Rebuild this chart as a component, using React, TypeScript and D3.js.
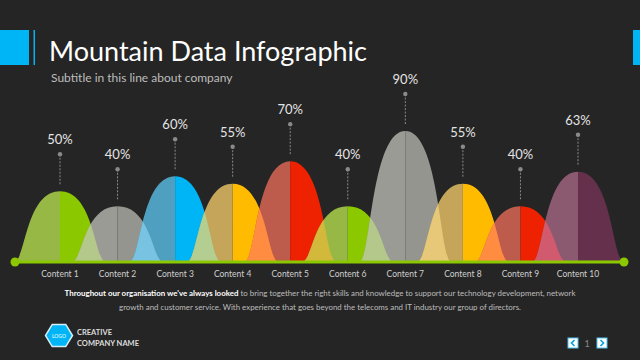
import React from 'react';
import * as d3 from 'd3';

const categories = ['Content 1', 'Content 2', 'Content 3', 'Content 4', 'Content 5', 'Content 6', 'Content 7', 'Content 8', 'Content 9', 'Content 10'];
const values = [50, 40, 60, 55, 70, 40, 90, 55, 40, 63];

// right half = full colour, left half = muted shade
const colors = ['#8cc800', '#959590', '#00b5f5', '#ffbb00', '#ee2200', '#8cc800', '#959590', '#ffbb00', '#ee2200', '#64304b'];
const shades = ['#98b846', '#9b9b96', '#4fa0c0', '#c4a55a', '#bd5c4c', '#98b846', '#9b9b96', '#c4a55a', '#bd5c4c', '#8c5a70'];
const overlaps = ['#b4c88c', '#78c3e1', '#b4cd91', '#ff8c41', '#d2b93c', '#b4c88c', '#e6c878', '#ff8c41', '#d25a6e'];

const W = 640;
const H = 360;
const BASE = 262;
const HALF = 46; // half width of a mountain foot
const FONT = 'Lato, "Open Sans", sans-serif';

const x = d3.scalePoint<string>().domain(categories).range([60, 578]);
const y = d3.scaleLinear().domain([3, 100]).range([BASE, 116]);

function halfPath(c: number, top: number, side: 'left' | 'right') {
  const p = d3.path();
  const s = side === 'left' ? -1 : 1;
  p.moveTo(c + s * HALF, BASE);
  p.bezierCurveTo(c + s * HALF * 0.75, BASE, c + s * HALF * 0.75, top, c, top);
  p.lineTo(c, BASE);
  p.closePath();
  return p.toString();
}

function fullPath(c: number, top: number) {
  const p = d3.path();
  p.moveTo(c - HALF, BASE);
  p.bezierCurveTo(c - HALF * 0.75, BASE, c - HALF * 0.75, top, c, top);
  p.bezierCurveTo(c + HALF * 0.75, top, c + HALF * 0.75, BASE, c + HALF, BASE);
  p.closePath();
  return p.toString();
}

function Hexagon({ cx, cy, r }: { cx: number; cy: number; r: number }) {
  const pts = d3.range(6).map(i => {
    const a = (Math.PI / 3) * i;
    return [cx + r * Math.cos(a), cy + r * Math.sin(a) * 0.95].join(',');
  });
  return <polygon points={pts.join(' ')} fill="#00b5f5" stroke="#d6eef6" strokeWidth={1.5} />;
}

export default function App() {
  return (
    <svg width={W} height={H} style={{ position: 'absolute', left: 0, top: 0 }} fontFamily={FONT}>
      <rect width={W} height={H} fill="#252525" />

      {/* header */}
      <rect x={0} y={30} width={29} height={35} fill="#00b5f5" />
      <rect x={33.5} y={30} width={1.5} height={35} fill="#00b5f5" />
      <rect x={633} y={30} width={7} height={35} fill="#00b5f5" />
      <text x={49} y={61} fontSize={27} fill="#ffffff">Mountain Data Infographic</text>
      <text x={51} y={82} fontSize={12} fill="#bdbdbd">Subtitle in this line about company</text>

      <defs>
        {categories.map((c, i) => (
          <clipPath id={`mclip-${i}`} key={c}>
            <path d={fullPath(x(c)!, y(values[i]))} />
          </clipPath>
        ))}
      </defs>

      {/* mountains */}
      {categories.map((c, i) => {
        const cx = x(c)!;
        const top = y(values[i]);
        return (
          <g key={c}>
            <path d={halfPath(cx, top, 'left')} fill={shades[i]} />
            <path d={halfPath(cx, top, 'right')} fill={colors[i]} />
          </g>
        );
      })}
      {categories.slice(1).map((c, j) => (
        <path key={c} d={fullPath(x(c)!, y(values[j + 1]))} fill={overlaps[j]} clipPath={`url(#mclip-${j})`} />
      ))}

      {/* pointers and value labels */}
      {categories.map((c, i) => {
        const cx = x(c)!;
        const top = y(values[i]);
        return (
          <g key={c}>
            <line x1={cx} x2={cx} y1={top - 37} y2={top - 6} stroke="#8a8a8a" strokeWidth={1} strokeDasharray="2,1.5" />
            <circle cx={cx} cy={top - 37} r={2.2} fill="#8a8a8a" />
            <text x={cx} y={top - 47} textAnchor="middle" fontSize={13} fill="#e4e4e4">{values[i]}%</text>
          </g>
        );
      })}

      {/* baseline */}
      <line x1={15} x2={624} y1={BASE} y2={BASE} stroke="#8cc800" strokeWidth={3} />
      <circle cx={15} cy={BASE} r={4.5} fill="#8cc800" />
      <circle cx={624} cy={BASE} r={4.5} fill="#8cc800" />

      {categories.map(c => (
        <text key={c} x={x(c)!} y={277} textAnchor="middle" fontSize={8.5} fill="#cfcfcf">{c}</text>
      ))}

      {/* paragraph */}
      <text x={320} y={296} textAnchor="middle" fontSize={7.9} fill="#bdbdbd">
        <tspan fontWeight="bold" fill="#ffffff">Throughout our organisation we've always looked</tspan>
        <tspan> to bring together the right skills and knowledge to support our technology development, network</tspan>
      </text>
      <text x={320} y={310} textAnchor="middle" fontSize={7.9} fill="#bdbdbd">
        growth and customer service. With experience that goes beyond the telecoms and IT industry our group of directors.
      </text>

      {/* footer logo */}
      <Hexagon cx={59} cy={335.5} r={13.5} />
      <text x={59} y={337.5} textAnchor="middle" fontSize={5} fill="#ffffff">LOGO</text>
      <text x={77} y={335} fontSize={7.5} fontWeight="bold" fill="#dddddd">CREATIVE</text>
      <text x={77} y={345.5} fontSize={7.5} fontWeight="bold" fill="#dddddd">COMPANY NAME</text>

      {/* pagination */}
      <rect x={568} y={338} width={10} height={10} fill="#ffffff" stroke="#4fc3f0" strokeWidth={1} />
      <path d="M574.5,340 L571.5,343 L574.5,346" fill="none" stroke="#00a0e0" strokeWidth={1.6} />
      <text x={587} y={347} textAnchor="middle" fontSize={9} fill="#8a8a8a">1</text>
      <rect x={597} y={338} width={10} height={10} fill="#ffffff" stroke="#4fc3f0" strokeWidth={1} />
      <path d="M600.5,340 L603.5,343 L600.5,346" fill="none" stroke="#00a0e0" strokeWidth={1.6} />
    </svg>
  );
}
